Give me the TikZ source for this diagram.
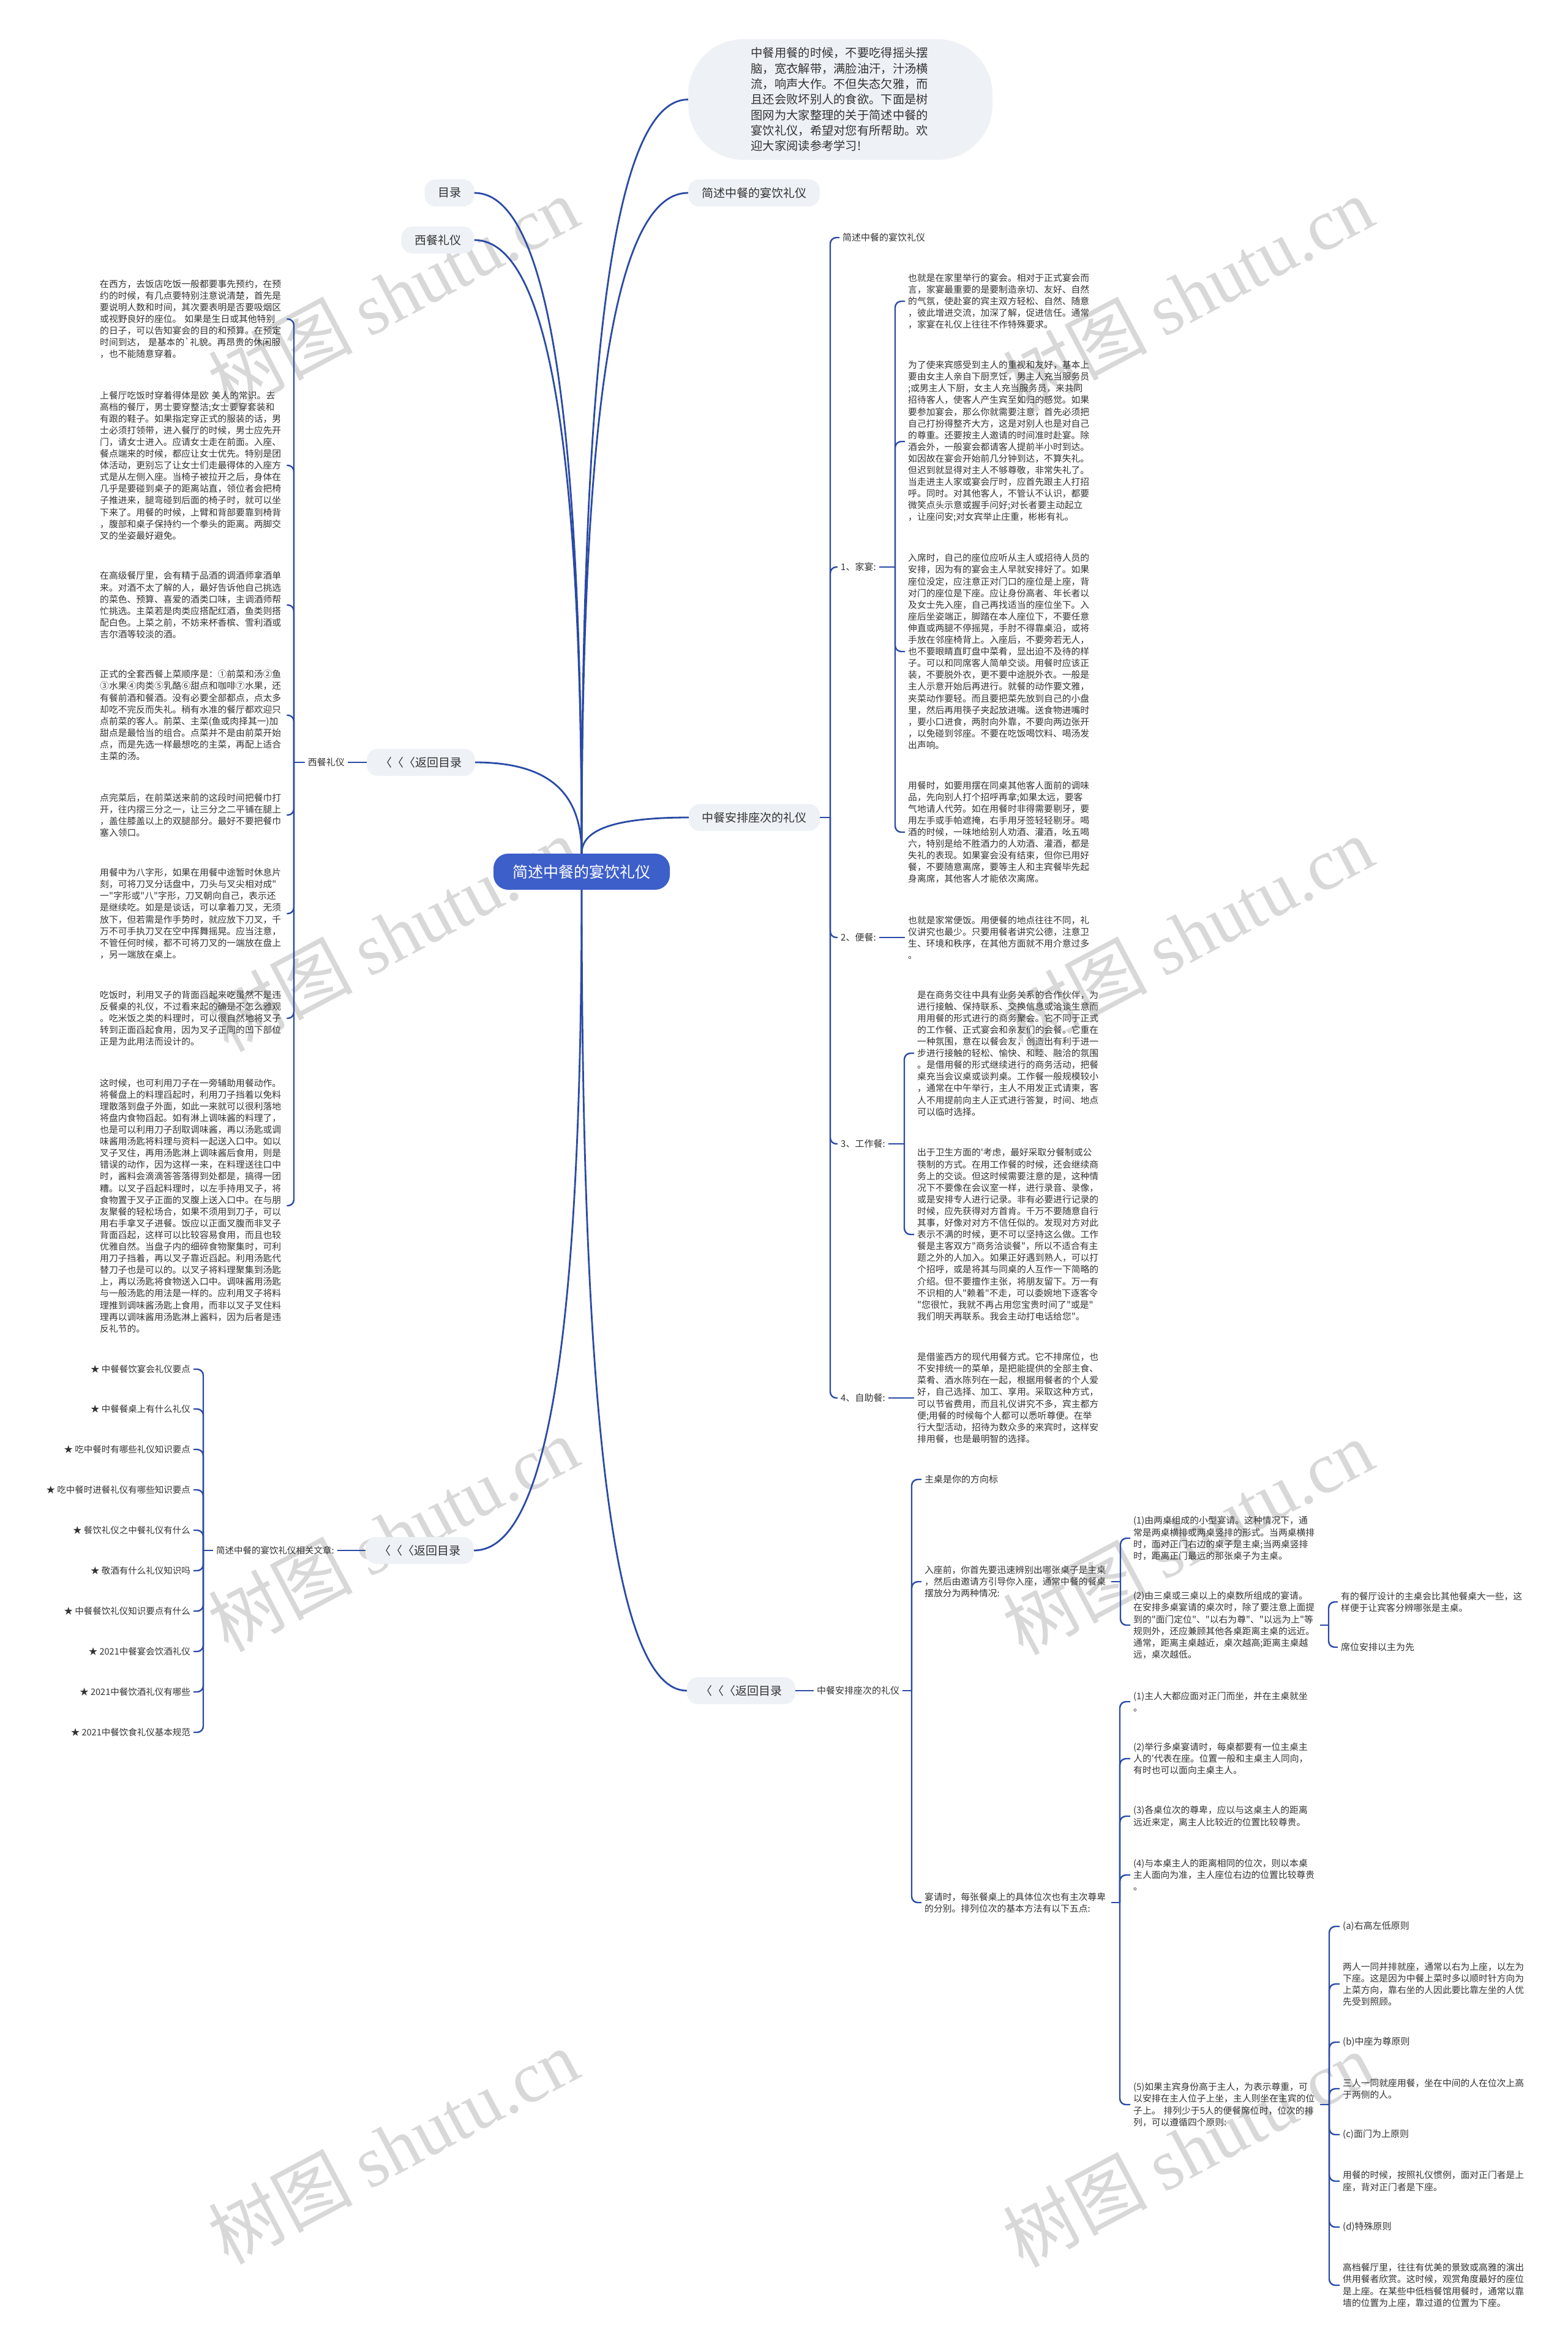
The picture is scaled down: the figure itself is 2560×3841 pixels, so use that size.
\documentclass[tikz,border=0pt]{standalone}
\usepackage{fontspec}
\newfontfamily\cjk{Noto Sans CJK SC}
\newfontfamily\wmser{Liberation Serif}
\definecolor{lnc}{HTML}{2A4AA5}
\definecolor{txc}{HTML}{333333}
\definecolor{gbox}{HTML}{EEF1F6}
\definecolor{cbox}{HTML}{3D5FCA}
\definecolor{wmc}{HTML}{D8D8D8}
\begin{document}
\begin{tikzpicture}[x=1pt,y=-1pt,
 mainln/.style={draw=lnc,line width=2.8pt},
 brln/.style={draw=lnc,line width=2.4pt,rounded corners=10pt},
 gnode/.style={fill=gbox,rounded corners=18pt,text=txc,font=\cjk\fontsize{19pt}{23pt}\selectfont,inner sep=0pt,minimum height=44pt},
 para/.style={font=\cjk\fontsize{14.8pt}{19.1pt}\selectfont,text width=300pt,align=left,inner xsep=5pt,inner ysep=0pt,text=txc},
 lbl/.style={font=\cjk\fontsize{15pt}{19pt}\selectfont,inner xsep=5pt,inner ysep=2pt,text=txc},
 slbl/.style={font=\cjk\fontsize{14.5pt}{19pt}\selectfont,inner xsep=5pt,inner ysep=2pt,text=txc},
 wm/.style={text=wmc,rotate=28,inner sep=0pt,font=\cjk\fontsize{118pt}{120pt}\selectfont}]
\fill[white] (0,0) rectangle (2560,3841);
\useasboundingbox (0,0) rectangle (2560,3841);
% watermarks
\node[wm] (w1) at (642,480) {树图 {\wmser shutu.cn}};
\node[wm] (w2) at (1940,480) {树图 {\wmser shutu.cn}};
\node[wm] (w3) at (642,1525) {树图 {\wmser shutu.cn}};
\node[wm] (w4) at (1940,1525) {树图 {\wmser shutu.cn}};
\node[wm] (w5) at (642,2505) {树图 {\wmser shutu.cn}};
\node[wm] (w6) at (1940,2510) {树图 {\wmser shutu.cn}};
\node[wm] (w7) at (642,3505) {树图 {\wmser shutu.cn}};
\node[wm] (w8) at (1940,3510) {树图 {\wmser shutu.cn}};

% central and first level
\node[fill=cbox,rounded corners=24pt,text=white,font=\cjk\fontsize{25pt}{30pt}\selectfont,minimum width=288pt,minimum height=59pt,inner sep=0pt] (cn) at (950,1423.5) {简述中餐的宴饮礼仪};
\node[fill=gbox,rounded corners=90pt,minimum width=497pt,minimum height=197pt,inner sep=0pt,text width=292pt,align=left,text=txc,font=\cjk\fontsize{19.3pt}{25.3pt}\selectfont] (intro) at (1372.5,162.5) {中餐用餐的时候，不要吃得摇头摆\\脑，宽衣解带，满脸油汗，汁汤横\\流，响声大作。不但失态欠雅，而\\且还会败坏别人的食欲。下面是树\\图网为大家整理的关于简述中餐的\\宴饮礼仪，希望对您有所帮助。欢\\迎大家阅读参考学习!};
\node[gnode,minimum width=81pt] (mulu) at (734,315) {目录};
\node[gnode,minimum width=119pt] (xcg) at (715,392) {西餐礼仪};
\node[gnode,minimum width=215pt] (jsg) at (1231.5,315) {简述中餐的宴饮礼仪};
\node[gnode,minimum width=177pt] (fh1) at (687.5,1245) {〈〈〈返回目录};
\node[gnode,minimum width=214pt] (zcg) at (1232,1335) {中餐安排座次的礼仪};
\node[gnode,minimum width=177pt] (fh2) at (685.5,2532) {〈〈〈返回目录};
\node[gnode,minimum width=177pt] (fh3) at (1210.5,2761) {〈〈〈返回目录};

\draw[mainln] (cn.north) .. controls +(0,-794) and +(-124,0) .. (intro.west);
\draw[mainln] (cn.north) .. controls +(0,-696) and +(-124,0) .. (jsg.west);
\draw[mainln] (cn.north) .. controls +(0,-696) and +(124,0) .. (mulu.east);
\draw[mainln] (cn.north) .. controls +(0,-646) and +(124,0) .. (xcg.east);
\draw[mainln] (cn.north) .. controls +(0,-96) and +(124,0) .. (fh1.east);
\draw[mainln] (cn.north) .. controls +(0,-38) and +(-124,0) .. (zcg.west);
\draw[mainln] (cn.south) .. controls +(0,696) and +(125,0) .. (fh2.east);
\draw[mainln] (cn.south) .. controls +(0,844) and +(-122,0) .. (fh3.west);

% ---------- western etiquette (left) ----------
\coordinate (bXC) at (480,1245);
\node[lbl,anchor=east] (xclbl) at (568,1245) {西餐礼仪};
\node[para,anchor=west] (L1) at (158,521) {在西方，去饭店吃饭一般都要事先预约，在预\\约的时候，有几点要特别注意说清楚，首先是\\要说明人数和时间，其次要表明是否要吸烟区\\或视野良好的座位。 如果是生日或其他特别\\的日子，可以告知宴会的目的和预算。在预定\\时间到达， 是基本的`礼貌。再昂贵的休闲服\\，也不能随意穿着。};
\node[para,anchor=west] (L2) at (158,760) {上餐厅吃饭时穿着得体是欧 美人的常识。去\\高档的餐厅，男士要穿整洁;女士要穿套装和\\有跟的鞋子。如果指定穿正式的服装的话，男\\士必须打领带，进入餐厅的时候，男士应先开\\门，请女士进入。应请女士走在前面。入座、\\餐点端来的时候，都应让女士优先。特别是团\\体活动，更别忘了让女士们走最得体的入座方\\式是从左侧入座。当椅子被拉开之后，身体在\\几乎是要碰到桌子的距离站直，领位者会把椅\\子推进来，腿弯碰到后面的椅子时，就可以坐\\下来了。用餐的时候，上臂和背部要靠到椅背\\，腹部和桌子保持约一个拳头的距离。两脚交\\叉的坐姿最好避免。};
\node[para,anchor=west] (L3) at (158,988) {在高级餐厅里，会有精于品酒的调酒师拿酒单\\来。对酒不太了解的人，最好告诉他自己挑选\\的菜色、预算、喜爱的酒类口味，主调酒师帮\\忙挑选。主菜若是肉类应搭配红酒，鱼类则搭\\配白色。上菜之前，不妨来杯香槟、雪利酒或\\吉尔酒等较淡的酒。};
\node[para,anchor=west] (L4) at (158,1168) {正式的全套西餐上菜顺序是：①前菜和汤②鱼\\③水果④肉类⑤乳酪⑥甜点和咖啡⑦水果，还\\有餐前酒和餐酒。没有必要全部都点，点太多\\却吃不完反而失礼。稍有水准的餐厅都欢迎只\\点前菜的客人。前菜、主菜(鱼或肉择其一)加\\甜点是最恰当的组合。点菜并不是由前菜开始\\点，而是先选一样最想吃的主菜，再配上适合\\主菜的汤。};
\node[para,anchor=west] (L5) at (158,1331) {点完菜后，在前菜送来前的这段时间把餐巾打\\开，往内摺三分之一，让三分之二平铺在腿上\\，盖住膝盖以上的双腿部分。最好不要把餐巾\\塞入领口。};
\node[para,anchor=west] (L6) at (158,1492) {用餐中为八字形，如果在用餐中途暂时休息片\\刻，可将刀叉分话盘中，刀头与叉尖相对成"\\一"字形或"八"字形，刀叉朝向自己，表示还\\是继续吃。如是是谈话，可以拿着刀叉，无须\\放下，但若需是作手势时，就应放下刀叉，千\\万不可手执刀叉在空中挥舞摇晃。应当注意，\\不管任何时候，都不可将刀叉的一端放在盘上\\，另一端放在桌上。};
\node[para,anchor=west] (L7) at (158,1663) {吃饭时，利用叉子的背面舀起来吃虽然不是违\\反餐桌的礼仪，不过看来起的确是不怎么雅观\\。吃米饭之类的料理时，可以很自然地将叉子\\转到正面舀起食用，因为叉子正同的凹下部位\\正是为此用法而设计的。};
\node[para,anchor=west] (L8) at (158,1969) {这时候，也可利用刀子在一旁辅助用餐动作。\\将餐盘上的料理舀起时，利用刀子挡着以免料\\理散落到盘子外面，如此一来就可以很利落地\\将盘内食物舀起。如有淋上调味酱的料理了，\\也是可以利用刀子刮取调味酱，再以汤匙或调\\味酱用汤匙将料理与资料一起送入口中。如以\\叉子叉住，再用汤匙淋上调味酱后食用，则是\\错误的动作，因为这样一来，在料理送往口中\\时，酱料会滴滴答答落得到处都是，搞得一团\\糟。以叉子舀起料理时，以左手持用叉子，将\\食物置于叉子正面的叉腹上送入口中。在与朋\\友聚餐的轻松场合，如果不须用到刀子，可以\\用右手拿叉子进餐。饭应以正面叉腹而非叉子\\背面舀起，这样可以比较容易食用，而且也较\\优雅自然。当盘子内的细碎食物聚集时，可利\\用刀子挡着，再以叉子靠近舀起。利用汤匙代\\替刀子也是可以的。以叉子将料理聚集到汤匙\\上，再以汤匙将食物送入口中。调味酱用汤匙\\与一般汤匙的用法是一样的。应利用叉子将料\\理推到调味酱汤匙上食用，而非以叉子叉住料\\理再以调味酱用汤匙淋上酱料，因为后者是违\\反礼节的。};
\draw[brln] (fh1.west) -- (xclbl.east);
\draw[brln] (xclbl.west) -- (bXC);
\foreach \p in {L1,L2,L3,L4,L5,L6,L7,L8} \draw[brln] (bXC) |- (\p.east);

% ---------- Chinese banquet types (right middle) ----------
\coordinate (bZC) at (1356,1335);
\coordinate (bJY) at (1462,926);
\coordinate (bGZ) at (1477,1868);
\node[lbl,anchor=west] (jslbl) at (1371,388) {简述中餐的宴饮礼仪};
\node[lbl,anchor=west] (jy) at (1368,926) {1、家宴:};
\node[lbl,anchor=west] (bc) at (1368,1531) {2、便餐:};
\node[lbl,anchor=west] (gz) at (1368,1868) {3、工作餐:};
\node[lbl,anchor=west] (zz) at (1368,2283) {4、自助餐:};
\node[para,anchor=west] (J1) at (1478,492) {也就是在家里举行的宴会。相对于正式宴会而\\言，家宴最重要的是要制造亲切、友好、自然\\的气氛，使赴宴的宾主双方轻松、自然、随意\\，彼此增进交流，加深了解，促进信任。通常\\，家宴在礼仪上往往不作特殊要求。};
\node[para,anchor=west] (J2) at (1478,721) {为了使来宾感受到主人的重视和友好，基本上\\要由女主人亲自下厨烹饪，男主人充当服务员\\;或男主人下厨，女主人充当服务员，来共同\\招待客人，使客人产生宾至如归的感觉。如果\\要参加宴会，那么你就需要注意，首先必须把\\自己打扮得整齐大方，这是对别人也是对自己\\的尊重。还要按主人邀请的时间准时赴宴。除\\酒会外，一般宴会都请客人提前半小时到达。\\如因故在宴会开始前几分钟到达，不算失礼。\\但迟到就显得对主人不够尊敬，非常失礼了。\\当走进主人家或宴会厅时，应首先跟主人打招\\呼。同时。对其他客人，不管认不认识，都要\\微笑点头示意或握手问好;对长者要主动起立\\，让座问安;对女宾举止庄重，彬彬有礼。};
\node[para,anchor=west] (J3) at (1478,1064) {入席时，自己的座位应听从主人或招待人员的\\安排，因为有的宴会主人早就安排好了。如果\\座位没定，应注意正对门口的座位是上座，背\\对门的座位是下座。应让身份高者、年长者以\\及女士先入座，自己再找适当的座位坐下。入\\座后坐姿端正，脚踏在本人座位下，不要任意\\伸直或两腿不停摇晃，手肘不得靠桌沿，或将\\手放在邻座椅背上。入座后，不要旁若无人，\\也不要眼睛直盯盘中菜肴，显出迫不及待的样\\子。可以和同席客人简单交谈。用餐时应该正\\装，不要脱外衣，更不要中途脱外衣。一般是\\主人示意开始后再进行。就餐的动作要文雅，\\夹菜动作要轻。而且要把菜先放到自己的小盘\\里，然后再用筷子夹起放进嘴。送食物进嘴时\\，要小口进食，两肘向外靠，不要向两边张开\\，以免碰到邻座。不要在吃饭喝饮料、喝汤发\\出声响。};
\node[para,anchor=west] (J4) at (1478,1359) {用餐时，如要用摆在同桌其他客人面前的调味\\品，先向别人打个招呼再拿;如果太远，要客\\气地请人代劳。如在用餐时非得需要剔牙，要\\用左手或手帕遮掩，右手用牙签轻轻剔牙。喝\\酒的时候，一味地给别人劝酒、灌酒，吆五喝\\六，特别是给不胜酒力的人劝酒、灌酒，都是\\失礼的表现。如果宴会没有结束，但你已用好\\餐，不要随意离席，要等主人和主宾餐毕先起\\身离席，其他客人才能依次离席。};
\node[para,anchor=west] (B1) at (1478,1531) {也就是家常便饭。用便餐的地点往往不同，礼\\仪讲究也最少。只要用餐者讲究公德，注意卫\\生、环境和秩序，在其他方面就不用介意过多\\。};
\node[para,anchor=west] (W1) at (1493,1720) {是在商务交往中具有业务关系的合作伙伴，为\\进行接触、保持联系、交换信息或洽谈生意而\\用用餐的形式进行的商务聚会。它不同于正式\\的工作餐、正式宴会和亲友们的会餐。它重在\\一种氛围，意在以餐会友，创造出有利于进一\\步进行接触的轻松、愉快、和睦、融洽的氛围\\。是借用餐的形式继续进行的商务活动，把餐\\桌充当会议桌或谈判桌。工作餐一般规模较小\\，通常在中午举行，主人不用发正式请柬，客\\人不用提前向主人正式进行答复，时间、地点\\可以临时选择。};
\node[para,anchor=west] (W2) at (1493,2016) {出于卫生方面的'考虑，最好采取分餐制或公\\筷制的方式。在用工作餐的时候，还会继续商\\务上的交谈。但这时候需要注意的是，这种情\\况下不要像在会议室一样，进行录音、录像，\\或是安排专人进行记录。非有必要进行记录的\\时候，应先获得对方首肯。千万不要随意自行\\其事，好像对对方不信任似的。发现对方对此\\表示不满的时候，更不可以坚持这么做。工作\\餐是主客双方"商务洽谈餐"，所以不适合有主\\题之外的人加入。如果正好遇到熟人，可以打\\个招呼，或是将其与同桌的人互作一下简略的\\介绍。但不要擅作主张，将朋友留下。万一有\\不识相的人"赖着"不走，可以委婉地下逐客令\\"您很忙，我就不再占用您宝贵时间了"或是"\\我们明天再联系。我会主动打电话给您"。};
\node[para,anchor=west] (Z1) at (1493,2283) {是借鉴西方的现代用餐方式。它不排席位，也\\不安排统一的菜单，是把能提供的全部主食、\\菜肴、酒水陈列在一起，根据用餐者的个人爱\\好，自己选择、加工、享用。采取这种方式，\\可以节省费用，而且礼仪讲究不多，宾主都方\\便;用餐的时候每个人都可以悉听尊便。在举\\行大型活动，招待为数众多的来宾时，这样安\\排用餐，也是最明智的选择。};
\draw[brln] (zcg.east) -- (bZC);
\foreach \p in {jslbl,jy,bc,gz,zz} \draw[brln] (bZC) |- (\p.west);
\draw[brln] (jy.east) -- (bJY);
\foreach \p in {J1,J2,J3,J4} \draw[brln] (bJY) |- (\p.west);
\draw[brln] (bc.east) -- (B1.west);
\draw[brln] (gz.east) -- (bGZ);
\foreach \p in {W1,W2} \draw[brln] (bGZ) |- (\p.west);
\draw[brln] (zz.east) -- (Z1.west);

% ---------- related articles (lower left) ----------
\coordinate (bXG) at (332,2532);
\node[slbl,anchor=west] (xglbl) at (348,2532) {简述中餐的宴饮礼仪相关文章:};
\node[slbl,anchor=east] (s1) at (316,2236) {★ 中餐餐饮宴会礼仪要点};
\node[slbl,anchor=east] (s2) at (316,2301) {★ 中餐餐桌上有什么礼仪};
\node[slbl,anchor=east] (s3) at (316,2367) {★ 吃中餐时有哪些礼仪知识要点};
\node[slbl,anchor=east] (s4) at (316,2433) {★ 吃中餐时进餐礼仪有哪些知识要点};
\node[slbl,anchor=east] (s5) at (316,2499) {★ 餐饮礼仪之中餐礼仪有什么};
\node[slbl,anchor=east] (s6) at (316,2565) {★ 敬酒有什么礼仪知识吗};
\node[slbl,anchor=east] (s7) at (316,2631) {★ 中餐餐饮礼仪知识要点有什么};
\node[slbl,anchor=east] (s8) at (316,2697) {★ 2021中餐宴会饮酒礼仪};
\node[slbl,anchor=east] (s9) at (316,2763) {★ 2021中餐饮酒礼仪有哪些};
\node[slbl,anchor=east] (s10) at (316,2829) {★ 2021中餐饮食礼仪基本规范};
\draw[brln] (fh2.west) -- (xglbl.east);
\draw[brln] (xglbl.west) -- (bXG);
\foreach \p in {s1,s2,s3,s4,s5,s6,s7,s8,s9,s10} \draw[brln] (bXG) |- (\p.east);

% ---------- seating etiquette (lower right) ----------
\coordinate (bZC2) at (1489,2761);
\coordinate (bRZ) at (1830,2583);
\coordinate (bT2) at (2170,2654);
\coordinate (bYQ) at (1829,3107);
\coordinate (bP5) at (2171,3437);
\node[lbl,anchor=west] (zclbl) at (1329,2761) {中餐安排座次的礼仪};
\node[lbl,anchor=west] (zz1) at (1505,2416) {主桌是你的方向标};
\node[para,anchor=west] (RZ) at (1505,2583) {入座前，你首先要迅速辨别出哪张桌子是主桌\\，然后由邀请方引导你入座，通常中餐的餐桌\\摆放分为两种情况:};
\node[para,anchor=west] (YQ) at (1505,3107) {宴请时，每张餐桌上的具体位次也有主次尊卑\\的分别。排列位次的基本方法有以下五点:};
\node[para,anchor=west] (R1) at (1846,2512) {(1)由两桌组成的小型宴请。这种情况下，通\\常是两桌横排或两桌竖排的形式。当两桌横排\\时，面对正门右边的桌子是主桌;当两桌竖排\\时，距离正门最远的那张桌子为主桌。};
\node[para,anchor=west] (R2) at (1846,2654) {(2)由三桌或三桌以上的桌数所组成的宴请。\\在安排多桌宴请的桌次时，除了要注意上面提\\到的"面门定位"、"以右为尊"、"以远为上"等\\规则外，还应兼顾其他各桌距离主桌的远近。\\通常，距离主桌越近，桌次越高;距离主桌越\\远，桌次越低。};
\node[para,anchor=west] (T1) at (2185,2616) {有的餐厅设计的主桌会比其他餐桌大一些，这\\样便于让宾客分辨哪张是主桌。};
\node[lbl,anchor=west] (T2) at (2185,2690) {席位安排以主为先};
\node[para,anchor=west] (Y1) at (1846,2779) {(1)主人大都应面对正门而坐，并在主桌就坐\\。};
\node[para,anchor=west] (Y2) at (1846,2872) {(2)举行多桌宴请时，每桌都要有一位主桌主\\人的'代表在座。位置一般和主桌主人同向，\\有时也可以面向主桌主人。};
\node[para,anchor=west] (Y3) at (1846,2966) {(3)各桌位次的尊卑，应以与这桌主人的距离\\远近来定，离主人比较近的位置比较尊贵。};
\node[para,anchor=west] (Y4) at (1846,3062) {(4)与本桌主人的距离相同的位次，则以本桌\\主人面向为准，主人座位右边的位置比较尊贵\\。};
\node[para,anchor=west] (Y5) at (1846,3437) {(5)如果主宾身份高于主人，为表示尊重，可\\以安排在主人位子上坐，主人则坐在主宾的位\\子上。 排列少于5人的便餐席位时，位次的排\\列，可以遵循四个原则:};
\node[lbl,anchor=west] (Pa) at (2188,3146) {(a)右高左低原则};
\node[para,anchor=west] (Pa2) at (2188,3240) {两人一同并排就座，通常以右为上座，以左为\\下座。这是因为中餐上菜时多以顺时针方向为\\上菜方向，靠右坐的人因此要比靠左坐的人优\\先受到照顾。};
\node[lbl,anchor=west] (Pb) at (2188,3335) {(b)中座为尊原则};
\node[para,anchor=west] (Pb2) at (2188,3411) {三人一同就座用餐，坐在中间的人在位次上高\\于两侧的人。};
\node[lbl,anchor=west] (Pc) at (2188,3486) {(c)面门为上原则};
\node[para,anchor=west] (Pc2) at (2188,3562) {用餐的时候，按照礼仪惯例，面对正门者是上\\座，背对正门者是下座。};
\node[lbl,anchor=west] (Pd) at (2188,3637) {(d)特殊原则};
\node[para,anchor=west] (Pd2) at (2188,3732) {高档餐厅里，往往有优美的景致或高雅的演出\\供用餐者欣赏。这时候，观赏角度最好的座位\\是上座。在某些中低档餐馆用餐时，通常以靠\\墙的位置为上座，靠过道的位置为下座。};
\draw[brln] (fh3.east) -- (zclbl.west);
\draw[brln] (zclbl.east) -- (bZC2);
\foreach \p in {zz1,RZ,YQ} \draw[brln] (bZC2) |- (\p.west);
\draw[brln] (RZ.east) -- (bRZ);
\foreach \p in {R1,R2} \draw[brln] (bRZ) |- (\p.west);
\draw[brln] (R2.east) -- (bT2);
\foreach \p in {T1,T2} \draw[brln] (bT2) |- (\p.west);
\draw[brln] (YQ.east) -- (bYQ);
\foreach \p in {Y1,Y2,Y3,Y4,Y5} \draw[brln] (bYQ) |- (\p.west);
\draw[brln] (Y5.east) -- (bP5);
\foreach \p in {Pa,Pa2,Pb,Pb2,Pc,Pc2,Pd,Pd2} \draw[brln] (bP5) |- (\p.west);
\end{tikzpicture}
\end{document}
